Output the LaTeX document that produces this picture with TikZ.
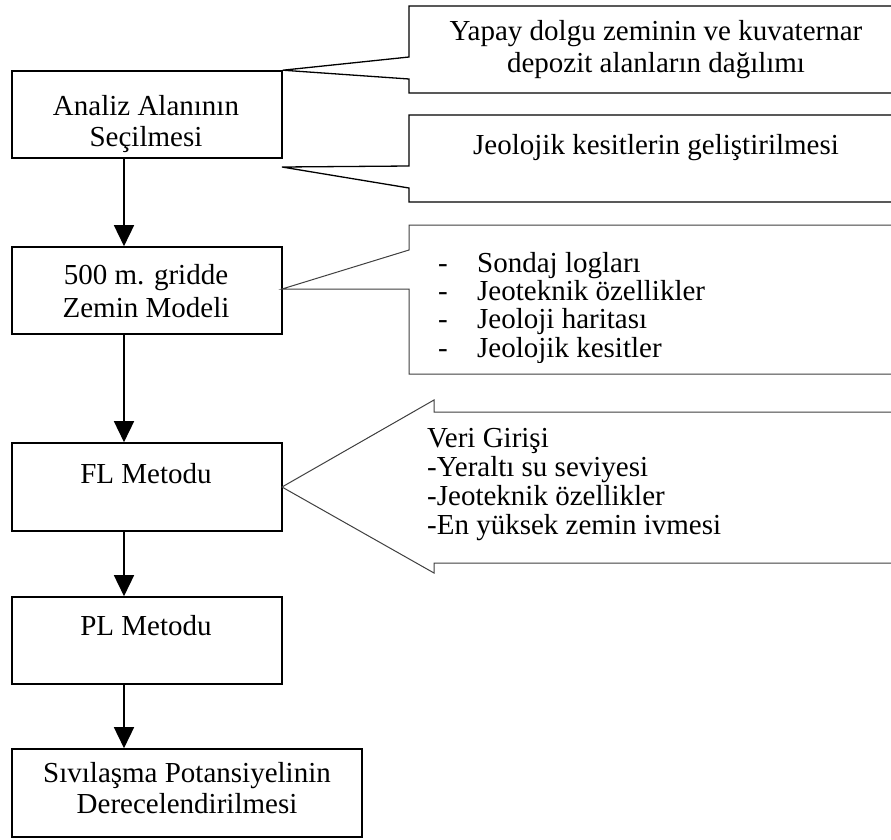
\documentclass[tikz,border=0pt]{standalone}
\usepackage{fontspec}
\setmainfont{Liberation Serif}
\usetikzlibrary{arrows.meta}
\begin{document}
\begin{tikzpicture}[x=1pt,y=-1pt,
  stepbox/.style={draw,line width=1.6pt,rectangle,inner sep=0pt},
  flow/.style={line width=1.5pt,-{Triangle[width=20pt,length=21pt]}},
  callout/.style={line width=1.3pt,line join=miter},
  thincallout/.style={line width=1pt,draw=black!75,line join=miter},
  txt/.style={anchor=base,inner sep=0pt,font=\fontsize{29}{33}\selectfont},
  ltxt/.style={anchor=base west,inner sep=0pt,font=\fontsize{29}{33}\selectfont}]
\clip (0,0) rectangle (891,839);
\fill[white] (0,0) rectangle (891,839);

% main flow boxes
\node[stepbox,minimum width=270pt,minimum height=87pt] (b1) at (147,114.5) {};
\node[stepbox,minimum width=270pt,minimum height=87pt] (b2) at (147,290.5) {};
\node[stepbox,minimum width=270pt,minimum height=88pt] (b3) at (147,487) {};
\node[stepbox,minimum width=270pt,minimum height=87pt] (b4) at (147,640.5) {};
\node[stepbox,minimum width=350pt,minimum height=88pt] (b5) at (187,793) {};

\node[txt] (t1a) at (146,115) {Analiz Alanının};
\node[txt] (t1b) at (146,146) {Seçilmesi};
\node[txt] (t2a) at (146,284) {500 m. gridde};
\node[txt] (t2b) at (146,317) {Zemin Modeli};
\node[txt] (t3) at (146,483) {FL Metodu};
\node[txt] (t4) at (146,635) {PL Metodu};
\node[txt] (t5a) at (187,782) {Sıvılaşma Potansiyelinin};
\node[txt] (t5b) at (187,813) {Derecelendirilmesi};

% flow arrows, off-centre
\coordinate (ax) at (124,0);
\draw[flow] (b1.south -| ax) -- (b2.north -| ax);
\draw[flow] (b2.south -| ax) -- (b3.north -| ax);
\draw[flow] (b3.south -| ax) -- (b4.north -| ax);
\draw[flow] (b4.south -| ax) -- (b5.north -| ax);

% callout 1
\coordinate (c1tip) at (b1.north east);
\draw[callout] (903,6) -- (409,6) -- (409,57) -- (c1tip) -- (409,79) -- (409,93) -- (903,93);
\node[txt] (c1a) at (656,40) {Yapay dolgu zeminin ve kuvaternar};
\node[txt] (c1b) at (656,72) {depozit alanların dağılımı};

% callout 2
\coordinate (c2tip) at (282,167);
\draw[callout] (903,115) -- (409,115) -- (409,166) -- (c2tip) -- (409,188) -- (409,202) -- (903,202);
\node[txt] (c2a) at (656,154) {Jeolojik kesitlerin geliştirilmesi};

% callout 3
\coordinate (c3tip) at (282,289);
\draw[thincallout] (903,225) -- (409,225) -- (409,250) -- (c3tip) -- (409,289) -- (409,374) -- (903,374);
\begin{scope}
\clip (409,226) rectangle (891,362);
\node[ltxt] (d1) at (438,272) {-};
\node[ltxt] (l1) at (477,272) {Sondaj logları};
\node[ltxt] (d2) at (438,300) {-};
\node[ltxt] (l2) at (477,300) {Jeoteknik özellikler};
\node[ltxt] (d3) at (438,328) {-};
\node[ltxt] (l3) at (477,328) {Jeoloji haritası};
\node[ltxt] (d4) at (438,357) {-};
\node[ltxt] (l4) at (477,357) {Jeolojik kesitler};
\end{scope}

% callout 4, left-pointing block arrow
\coordinate (c4tip) at (282,487);
\draw[thincallout] (903,412) -- (434,412) -- (434,400) -- (c4tip) -- (434,573) -- (434,563) -- (903,563);
\node[ltxt] (v0) at (427,447) {Veri Girişi};
\node[ltxt] (v1) at (427,476) {-Yeraltı su seviyesi};
\node[ltxt] (v2) at (427,505) {-Jeoteknik özellikler};
\node[ltxt] (v3) at (427,534) {-En yüksek zemin ivmesi};
\end{tikzpicture}
\end{document}
